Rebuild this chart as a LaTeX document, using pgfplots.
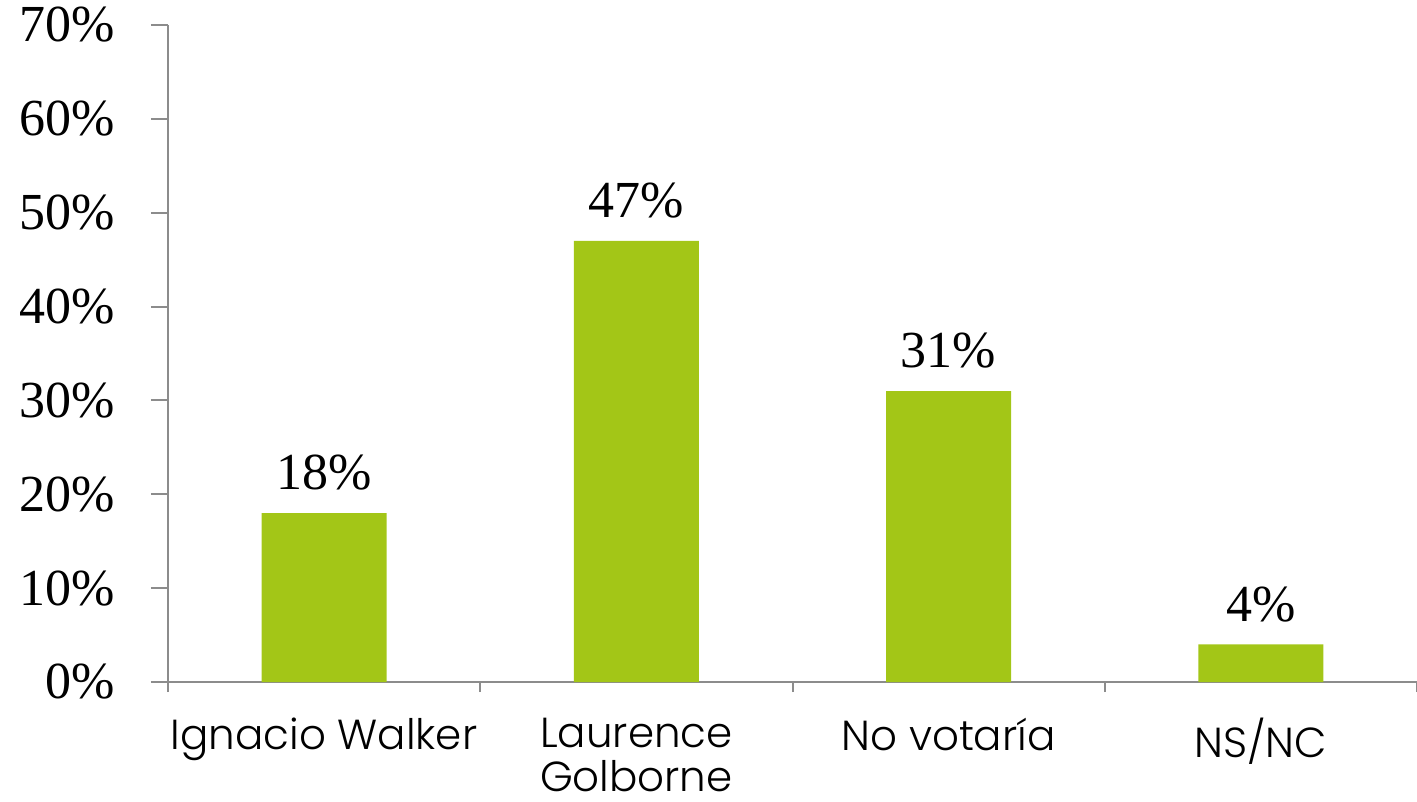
\documentclass[border=0pt]{standalone}
\usepackage{fontspec}
\usepackage{pgfplots}
\pgfplotsset{compat=1.18}
\newfontfamily\catfont[UprightFont=* Light]{Poppins}
\newfontfamily\numfont{Liberation Serif}
\definecolor{barg}{HTML}{A3C617}
\definecolor{axg}{HTML}{8C8C8C}
\begin{document}
\begin{tikzpicture}[x=1pt,y=1pt]
\begin{axis}[
  at={(0,0)}, anchor=south west,
  scale only axis, width=624.5pt, height=328.5pt,
  xmin=-0.5, xmax=3.5, ymin=0, ymax=70,
  axis x line*=bottom, axis y line*=left,
  axis line style={-, draw=axg, line width=1pt},
  xtick={0,1,2,3},
  xticklabels={Ignacio Walker,{Laurence\\Golborne},No votaría,NS/NC},
  major x tick style={draw=none},
  minor xtick={-0.5,0.5,1.5,2.5,3.5},
  minor x tick style={draw=axg, line width=1pt},
  xticklabel style={align=center, font=\catfont\fontsize{21}{22}\selectfont, text=black, yshift=-6pt},
  ytick={0,10,...,70},
  y tick style={draw=axg, line width=1pt},
  tick align=outside,
  major tick length=8.5pt,
  minor tick length=5pt,
  /pgf/number format/assume math mode=true,
  yticklabel={\pgfmathprintnumber{\tick}\%},
  yticklabel style={font=\numfont\fontsize{26}{26}\selectfont, xshift=-14.5pt},
  ]
\addplot[ybar, bar width=62.5pt, fill=barg, draw=none,
  nodes near coords={\pgfmathprintnumber{\pgfplotspointmeta}\%},
  every node near coord/.append style={font=\numfont\fontsize{26}{26}\selectfont, text=black, anchor=south, inner sep=0pt, yshift=11pt}]
  coordinates {(0,18) (1,47) (2,31) (3,4)};
\end{axis}
\pgfresetboundingbox
\path (-84pt,-60pt) rectangle (624.5pt,341pt);
\end{tikzpicture}
\end{document}
